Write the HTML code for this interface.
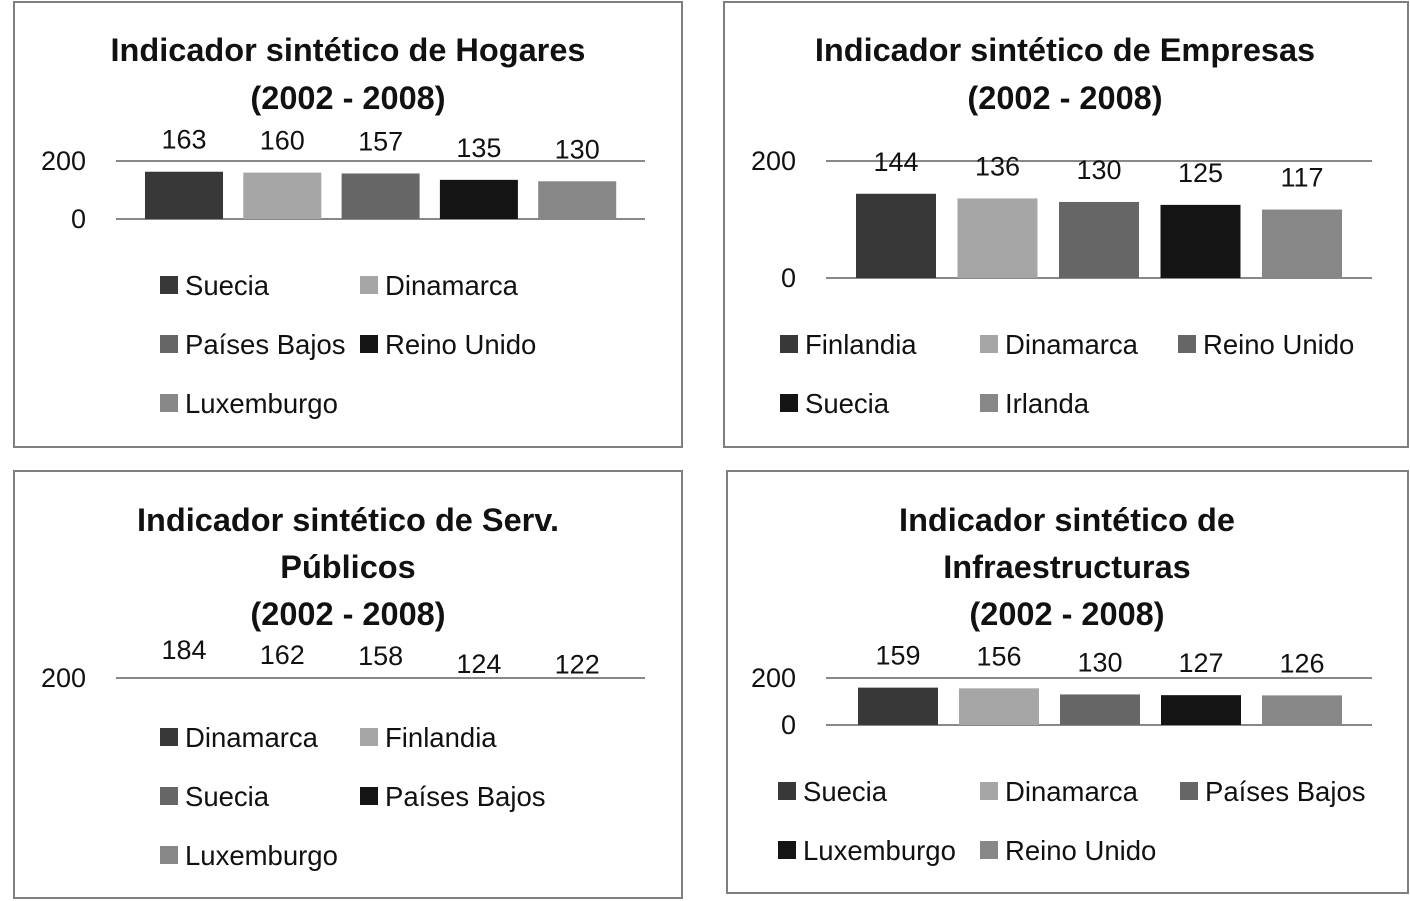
<!DOCTYPE html>
<html><head><meta charset="utf-8"><style>
body{margin:0;background:#fff;}
svg{display:block;font-family:"Liberation Sans",sans-serif;}
</style></head><body>
<svg id="svg" width="1410" height="901"></svg>
<script>
const titles1=["Indicador sintético de Hogares","(2002 - 2008)"];
const cats1=["Suecia","Dinamarca","Países Bajos","Reino Unido","Luxemburgo"];
const vals1=[163,160,157,135,130];
const titles2=["Indicador sintético de Empresas","(2002 - 2008)"];
const cats2=["Finlandia","Dinamarca","Reino Unido","Suecia","Irlanda"];
const vals2=[144,136,130,125,117];
const titles3=["Indicador sintético de Serv.","Públicos","(2002 - 2008)"];
const cats3=["Dinamarca","Finlandia","Suecia","Países Bajos","Luxemburgo"];
const vals3=[184,162,158,124,122];
const titles4=["Indicador sintético de","Infraestructuras","(2002 - 2008)"];
const cats4=["Suecia","Dinamarca","Países Bajos","Luxemburgo","Reino Unido"];
const vals4=[159,156,130,127,126];
const ticks=[0,200];
const colors=["#383838","#a6a6a6","#666666","#141414","#878787"];
const NS="http://www.w3.org/2000/svg";
const svg=document.getElementById('svg');
function mk(t,a,p){const e=document.createElementNS(NS,t);for(const k in a)e.setAttribute(k,a[k]);(p||svg).appendChild(e);return e;}
const panels=[
 {box:[14,2,668,445],titles:titles1,tcx:348,ty:[50,98],cats:cats1,vals:vals1,x0:116,x1:645,c0:184,sp:98.3,yTop:161,y0:219,show0:true,bw:78,leg:{rows:[285,344,403],cols:[160,360]}},
 {box:[724,2,684,445],titles:titles2,tcx:1065,ty:[50,98],cats:cats2,vals:vals2,x0:826,x1:1372,c0:896,sp:101.5,yTop:161,y0:278,show0:true,bw:80,leg:{rows:[344,403],cols:[780,980,1178]}},
 {box:[14,471,668,427],titles:titles3,tcx:348,ty:[520,567,614],cats:cats3,vals:vals3,x0:116,x1:645,c0:184,sp:98.3,yTop:678,y0:null,show0:false,bw:78,leg:{rows:[737,796,855],cols:[160,360]}},
 {box:[727,471,681,422],titles:titles4,tcx:1067,ty:[520,567,614],cats:cats4,vals:vals4,x0:826,x1:1372,c0:898,sp:101,yTop:678,y0:725,show0:true,bw:80,leg:{rows:[791,850],cols:[778,980,1180]}}
];
panels.forEach((p,pi)=>{
 const g=mk('g',{});
 
 
 const r=mk('rect',{x:p.box[0],y:p.box[1],width:p.box[2],height:p.box[3],fill:'#fff',stroke:'#7f7f7f','stroke-width':2},g);
 
 
 p.titles.forEach((t,i)=>{
  const tx=mk('text',{x:p.tcx,y:p.ty[i]+11,'text-anchor':'middle','font-size':32.5,'font-weight':'bold',fill:'#111'},g);
  tx.textContent=t;
  
  
 });
 const step=p.show0?(p.y0-p.yTop)/200:0.235;
 const yBase=p.show0?p.y0:p.yTop+47;
 const y=v=>yBase-v*step;
 ticks.forEach(tv=>{
  if(tv===0&&!p.show0)return;
  const yy=y(tv);
  const l=mk('line',{x1:p.x0,x2:p.x1,y1:yy,y2:yy,stroke:'#888','stroke-width':2},g);
  
  
  const t=mk('text',{x:p.x0-30,y:yy+9,'text-anchor':'end','font-size':27,fill:'#111'},g);
  t.textContent=tv;
  
  
 });
 p.vals.forEach((v,i)=>{
  const bx=p.c0+p.sp*i;
  const top=y(v);
  const clipTop=Math.max(top,p.yTop);
  if(p.show0){
   const b=mk('rect',{x:bx-p.bw/2,y:clipTop,width:p.bw,height:yBase-clipTop,fill:colors[i]},g);
   
   
  }
  const t=mk('text',{x:bx,y:clipTop-23,'text-anchor':'middle','font-size':27,fill:'#111'},g);
  t.textContent=v;
  
  
 });
 p.cats.forEach((c,i)=>{
  const nc=p.leg.cols.length;
  const lx=p.leg.cols[i%nc], ly=p.leg.rows[Math.floor(i/nc)];
  const s=mk('rect',{x:lx,y:ly-9,width:18,height:18,fill:colors[i]},g);
  
  
  const t=mk('text',{x:lx+25,y:ly+10,'font-size':27.5,fill:'#111'},g);
  t.textContent=c;
  
  
 });
});
</script>
</body></html>
